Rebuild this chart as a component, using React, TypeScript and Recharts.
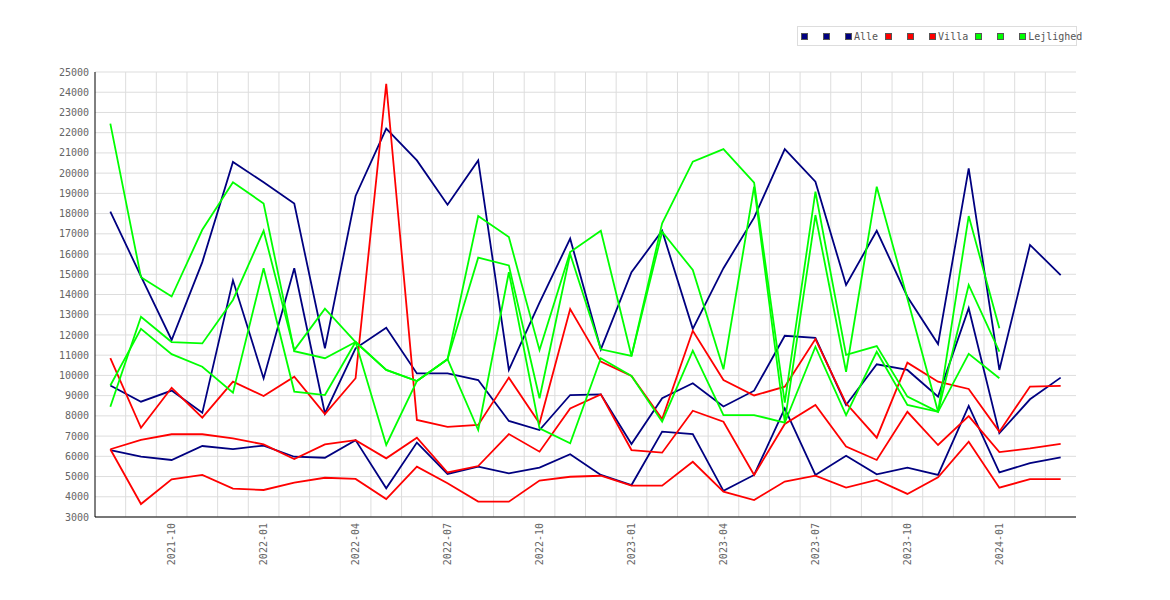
import React from 'react';
import { LineChart, Line, XAxis, YAxis, CartesianGrid } from 'recharts';

const months = [
  '2021-08', '2021-09', '2021-10', '2021-11', '2021-12', '2022-01', '2022-02', '2022-03',
  '2022-04', '2022-05', '2022-06', '2022-07', '2022-08', '2022-09', '2022-10', '2022-11',
  '2022-12', '2023-01', '2023-02', '2023-03', '2023-04', '2023-05', '2023-06', '2023-07',
  '2023-08', '2023-09', '2023-10', '2023-11', '2023-12', '2024-01', '2024-02', '2024-03',
];

const xTickLabels = ['2021-10', '2022-01', '2022-04', '2022-07', '2022-10', '2023-01', '2023-04', '2023-07', '2023-10', '2024-01'];

const yTicks = [3000, 4000, 5000, 6000, 7000, 8000, 9000, 10000, 11000, 12000, 13000, 14000, 15000, 16000, 17000, 18000, 19000, 20000, 21000, 22000, 23000, 24000, 25000];

const alle1 = [18100, 14900, 11750, 15600, 20550, 19550, 18500, 11340, 18870, 22200, 20630, 18440, 20630, 10270, 13600, 16760, 11290, 15100, 17150, 12300, 15300, 17800, 21190, 19580, 14470, 17150, 13890, 11550, 20240, 10270, 16450, 14960];
const alle2 = [9500, 8700, 9250, 8150, 14700, 9850, 15300, 8120, 11340, 12360, 10100, 10100, 9770, 7750, 7300, 9030, 9065, 6610, 8870, 9610, 8460, 9245, 11960, 11860, 8540, 10550, 10270, 8950, 13320, 7140, 8820, 9890];
const alle3 = [6310, 5980, 5820, 6510, 6360, 6530, 5980, 5930, 6800, 4420, 6680, 5130, 5490, 5160, 5440, 6100, 5080, 4580, 7220, 7100, 4290, 5080, 8370, 5080, 6030, 5110, 5440, 5080, 8490, 5210, 5660, 5950];

const villa1 = [10850, 7410, 9390, 7910, 9690, 8980, 9940, 8090, 9860, 24420, 7800, 7460, 7550, 9890, 7630, 13280, 10680, 9970, 7845, 12210, 9770, 9010, 9440, 11800, 8620, 6920, 10630, 9690, 9330, 7220, 9450, 9480];
const villa2 = [6350, 6810, 7090, 7090, 6890, 6590, 5870, 6590, 6800, 5900, 6920, 5200, 5520, 7100, 6230, 8370, 9065, 6310, 6180, 8255, 7710, 5080, 7600, 8540, 6480, 5820, 8200, 6560, 7990, 6210, 6390, 6610];
const villa3 = [6350, 3640, 4860, 5080, 4400, 4335, 4700, 4940, 4880, 3890, 5490, 4670, 3760, 3760, 4800, 4990, 5040, 4550, 4550, 5730, 4250, 3840, 4750, 5040, 4450, 4830, 4140, 4960, 6720, 4450, 4870, 4870];

const lej1 = [22450, 14850, 13900, 17200, 19550, 18500, 11200, 10850, 11650, 6560, 9720, 10800, 17880, 16840, 11250, 16100, 17150, 10960, 17520, 20570, 21190, 19530, 8650, 19080, 11010, 11450, 8950, 8200, 17880, 12330, null, null];
const lej2 = [8450, 12900, 11650, 11580, 13730, 17150, 11250, 13300, 11650, 10270, 9720, 10800, 15820, 15440, 8870, 16000, 11290, 10960, 17100, 15210, 10300, 19330, 7700, 17930, 10180, 19330, 13800, 8200, 14470, 11170, null, null];
const lej3 = [9500, 12300, 11050, 10430, 9150, 15300, 9200, 9030, 11650, 10270, 9720, 10800, 7300, 15100, 7380, 6640, 10850, 9970, 7710, 11220, 8040, 8040, 7660, 11420, 8040, 11170, 8540, 8200, 11070, 9860, null, null];

const seriesNames = ['', '', 'Alle', '', '', 'Villa', '', '', 'Lejlighed'];
const seriesValues = [alle1, alle2, alle3, villa1, villa2, villa3, lej1, lej2, lej3];

const NAVY = '#000080';
const RED = '#ff0000';
const GREEN = '#00ff00';
const seriesColors = [NAVY, NAVY, NAVY, RED, RED, RED, GREEN, GREEN, GREEN];

const FONT = '"DejaVu Sans Mono", monospace';
const TEXT = '#666666';

const rows = months.map((m, i) => {
  const row: Record<string, string | number | null> = { month: m };
  seriesValues.forEach((vals, s) => {
    row['s' + s] = vals[i];
  });
  return row;
});

const XTick = (props: any) => {
  const { x, y, payload } = props;
  return (
    <text
      x={x}
      y={y}
      transform={`rotate(-90 ${x} ${y})`}
      textAnchor="end"
      dominantBaseline="central"
      fontFamily={FONT}
      fontSize={10}
      fill={TEXT}
    >
      {payload.value}
    </text>
  );
};

const Legend = () => (
  <div
    style={{
      position: 'absolute',
      left: 797,
      top: 26,
      width: 280,
      height: 20,
      boxSizing: 'border-box',
      border: '1px solid #dddddd',
      display: 'flex',
      alignItems: 'center',
      paddingLeft: 3,
      fontFamily: FONT,
      fontSize: 10,
      color: '#555555',
      whiteSpace: 'nowrap',
      overflow: 'visible',
    }}
  >
    {seriesNames.map((name, i) => (
      <div key={i} style={{ display: 'flex', alignItems: 'center', marginRight: name ? 7 : 15, flexShrink: 0 }}>
        <span
          style={{
            display: 'inline-block',
            width: 7,
            height: 7,
            boxSizing: 'border-box',
            background: seriesColors[i],
            border: '1px solid #555555',
          }}
        />
        {name ? <span style={{ marginLeft: 2 }}>{name}</span> : null}
      </div>
    ))}
  </div>
);

export default function App() {
  return (
    <div style={{ position: 'absolute', left: 0, top: 0, width: 1170, height: 600, background: '#ffffff' }}>
      <LineChart
        width={1170}
        height={600}
        data={rows}
        margin={{ top: 72, right: 94, bottom: 23, left: 35 }}
      >
        <CartesianGrid
          stroke="#dddddd"
          strokeWidth={1}
          verticalCoordinatesGenerator={({ offset }: any) =>
            months.slice(1).map((_, i) => offset.left + ((i + 1) * offset.width) / months.length)
          }
        />
        <XAxis
          dataKey="month"
          scale="band"
          ticks={xTickLabels}
          interval={0}
          height={60}
          tickLine={false}
          tickSize={0}
          tickMargin={6}
          axisLine={{ stroke: '#000000' }}
          tick={<XTick />}
        />
        <YAxis
          domain={[3000, 25000]}
          ticks={yTicks}
          interval={0}
          width={60}
          tickLine={false}
          tickSize={0}
          tickMargin={6}
          axisLine={{ stroke: '#000000' }}
          tick={{ fontFamily: FONT, fontSize: 10, fill: TEXT }}
          allowDataOverflow
        />
        {seriesValues.map((_, s) => (
          <Line
            key={s}
            type="linear"
            dataKey={'s' + s}
            stroke={seriesColors[s]}
            strokeWidth={1.8}
            dot={false}
            activeDot={false}
            isAnimationActive={false}
            connectNulls={false}
          />
        ))}
      </LineChart>
      <Legend />
    </div>
  );
}
